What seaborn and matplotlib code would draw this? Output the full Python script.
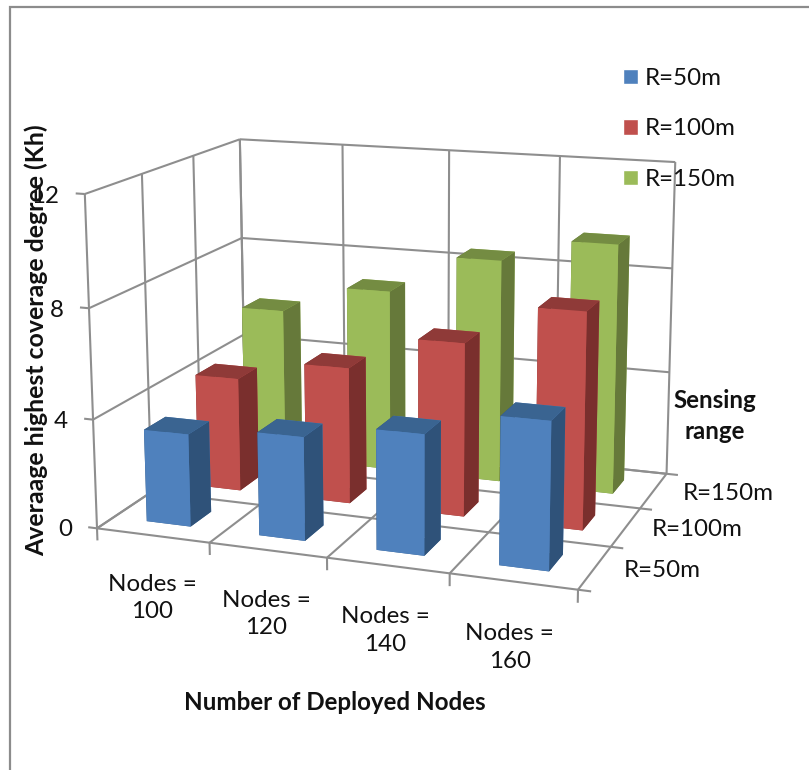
import numpy as np
import matplotlib
matplotlib.use("Agg")
import matplotlib.pyplot as plt
from matplotlib.patches import Patch, Rectangle
from mpl_toolkits.mplot3d.art3d import Line3DCollection
import seaborn as sns

# values
node_labels = ["Nodes =\n100", "Nodes =\n120", "Nodes =\n140", "Nodes =\n160"]
range_labels = ["R=50m", "R=100m", "R=150m"]
z_ticks = [0, 4, 8, 12]
r50 = [3.4, 3.75, 4.3, 5.2]
r100 = [4.3, 5.1, 6.4, 7.9]
r150 = [5.9, 7.0, 8.5, 9.4]

# front, side and top shades of each series
fronts = ["#4F81BD", "#C0504D", "#9BBB59"]
sides = ["#2F5279", "#7A2F2D", "#66793A"]
tops = ["#3A6491", "#8F3A38", "#748C42"]
GRID = "#8E8E8E"
INK = "#111111"

sns.set_theme(style="white")
plt.rcParams["font.family"] = ["Lato", "DejaVu Sans"]
FS = 17.4

W, H = 809, 770
fig = plt.figure(figsize=(W / 100, H / 100), dpi=100)
ax = fig.add_axes([0, 0, 1, 1], projection="3d", computed_zorder=False)
ax.set_axis_off()

# camera fitted to the corners of the chart box: (x, y, z) -> image pixel
corners = np.array([
    [0, 0, 0, 97, 528], [1, 0, 0, 209, 543], [3, 0, 0, 448, 573],
    [4, 0, 0, 575, 590], [4, 1, 0, 615, 547], [4, 2, 0, 643, 508],
    [4, 3, 0, 664, 473], [0, 0, 4, 94, 420], [0, 0, 8, 90, 308],
    [0, 0, 12, 84, 194], [0, 3, 4, 243, 336], [0, 3, 8, 242, 238],
    [0, 3, 12, 240, 138], [4, 3, 12, 675, 163],
], dtype=float)
rows, rhs = [], []
for x, y, z, u, v in corners:
    rows.append([x, y, z, 1, 0, 0, 0, 0, -u * x, -u * y, -u * z])
    rows.append([0, 0, 0, 0, x, y, z, 1, -v * x, -v * y, -v * z])
    rhs += [u, v]
sol = np.linalg.lstsq(np.array(rows), np.array(rhs), rcond=None)[0]
cam = np.append(sol, 1.0).reshape(3, 4)


def fitted_proj():
    # pixel -> display -> axes data
    flip = np.array([[1, 0, 0], [0, -1, H], [0, 0, 1]], dtype=float)
    to_data = ax.transData.inverted().get_matrix() @ flip
    top = to_data @ cam
    depth = cam[2] - np.array([0, 0, 0, 1.0])
    return np.vstack([top[0], top[1], depth, cam[2]])


ax.get_proj = fitted_proj


def px(x, y):
    return x / W, 1 - y / H


def at3d(x, y, z):
    # figure position of a point in chart coordinates
    u, v, w = cam @ np.array([x, y, z, 1.0])
    return px(u / w, v / w)


# walls and floor
segs = []
for t in z_ticks:
    segs.append([(0, 0, t), (0, 3, t)])
    segs.append([(0, 3, t), (4, 3, t)])
    segs.append([(-0.08, 0, t), (0, 0, t)])
for i in range(5):
    segs.append([(i, 0, -0.45), (i, 0, 0)])
    segs.append([(i, 0, 0), (i, 3, 0)])
    segs.append([(i, 3, 0), (i, 3, 12)])
for j in range(4):
    segs.append([(0, j, 0), (4.1, j, 0)])
    segs.append([(0, j, 0), (0, j, 12)])
ax.add_collection3d(Line3DCollection(segs, colors=GRID, linewidths=1.5, zorder=5))

# bars, back series first
xs = np.arange(4) + 0.3
for k, vals in reversed(list(enumerate([r50, r100, r150]))):
    colors = [tops[k], tops[k], fronts[k], fronts[k], sides[k], sides[k]] * 4
    ax.bar3d(xs, np.full(4, k + 0.3), np.zeros(4), 0.395, 0.4, vals,
             color=colors, shade=False, linewidth=0, zorder=10 + (2 - k))

# tick labels
for i, lab in enumerate(node_labels):
    fig.text(*at3d(i + 0.48, 0, -2.33), lab, ha="center", va="center", fontsize=FS,
             color=INK, linespacing=1.38)
for j, lab in enumerate(range_labels):
    fig.text(*at3d(4.52 + 0.055 * j, j + 0.5, 0.2), lab, ha="center", va="center",
             fontsize=FS, color=INK)
for t in z_ticks:
    fig.text(*at3d(-0.23, 0, t - 0.15), str(t), ha="right", va="center",
             fontsize=FS, color=INK)

# titles
fig.text(*px(36, 340), "Averaage highest coverage degree (Kh)", rotation=90,
         ha="center", va="center", fontsize=17.9, fontweight="bold", color=INK)
fig.text(*px(335, 703), "Number of Deployed Nodes", ha="center", va="center",
         fontsize=FS, fontweight="bold", color=INK)
fig.text(*px(715, 416), "Sensing\nrange", ha="center", va="center", fontsize=FS,
         fontweight="bold", color=INK, linespacing=1.38)

handles = [Patch(facecolor=c, label=l) for c, l in zip(fronts, range_labels)]
fig.legend(handles=handles, loc="upper left", bbox_to_anchor=px(623, 68),
           frameon=False, fontsize=FS, handlelength=0.62, handleheight=0.62,
           handletextpad=0.3, labelspacing=1.22, borderpad=0, borderaxespad=0,
           labelcolor=INK)

# chart frame, runs off the right and bottom of the crop
fig.add_artist(Rectangle(px(10, 800), 900 / W, 793 / H, transform=fig.transFigure,
                         fill=False, edgecolor="#8C8C8C", lw=1.6))

fig.savefig("out.png", dpi=100)
